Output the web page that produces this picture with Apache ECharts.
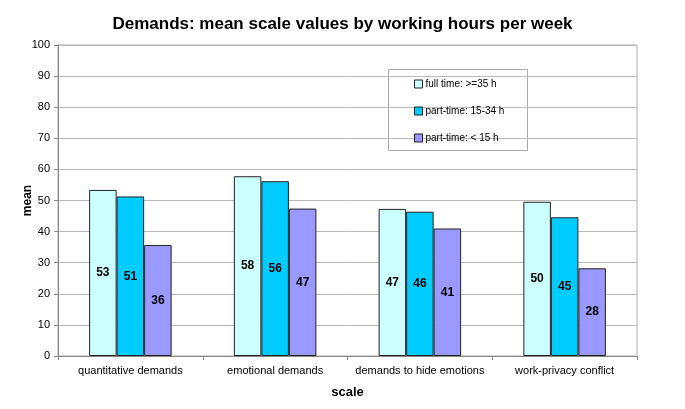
<!DOCTYPE html>
<html><head><meta charset="utf-8">
<script src="https://cdn.jsdelivr.net/npm/echarts@6/dist/echarts.min.js"></script>
<style>html,body{margin:0;padding:0;background:#fff}#c{width:685px;height:409px}</style>
</head><body><div id="c"></div>
<script>
const categories = ['quantitative demands', 'emotional demands', 'demands to hide emotions', 'work-privacy conflict'];
const seriesNames = ['full time: >=35 h', 'part-time: 15-34 h', 'part-time: < 15 h'];
const fullTime = [53.4, 57.8, 47.3, 49.6];
const partTime1534 = [51.3, 56.2, 46.4, 44.6];
const partTimeLt15 = [35.7, 47.4, 41.0, 28.2];
const yTicks = [0, 10, 20, 30, 40, 50, 60, 70, 80, 90, 100];

const colors = ['#CCFFFF', '#00CCFF', '#9999FF'];
const font = 'Liberation Sans, Arial, Helvetica, sans-serif';
const chart = echarts.init(document.getElementById('c'));
const mk = (name, data, i) => ({
  name, type: 'bar', data, barGap: '0%', barCategoryGap: '43%',
  itemStyle: { color: colors[i], borderColor: '#222', borderWidth: 1 },
  label: { show: true, position: 'inside', formatter: p => Math.round(p.value), color: '#000', fontWeight: 'bold', fontSize: 12, fontFamily: font }
});
chart.setOption({
  animation: false,
  title: { text: 'Demands: mean scale values by working hours per week', left: 'center', top: 11,
    textStyle: { fontSize: 17, fontWeight: 'bold', color: '#000', fontFamily: font } },
  grid: { left: 58, right: 48, top: 45, bottom: 53, show: true, borderColor: '#aaa', borderWidth: 1, backgroundColor: 'transparent' },
  legend: { orient: 'vertical', left: 411, top: 77, icon: 'rect', itemWidth: 8, itemHeight: 8, itemGap: 17,
    padding: [2, 10, 10, 3],
    data: seriesNames.map(n => ({ name: n, itemStyle: { borderColor: '#222', borderWidth: 1 } })),
    textStyle: { fontSize: 10, color: '#000', fontFamily: font, padding: [0, 0, 0, -2] } },
  graphic: [{ type: 'rect', left: 388, top: 69, shape: { width: 139, height: 81 }, style: { fill: '#fff', stroke: '#aaa', lineWidth: 1 }, z: 0 }],
  xAxis: { type: 'category', data: categories, name: 'scale', nameLocation: 'middle', nameGap: 30,
    nameTextStyle: { fontSize: 13, fontWeight: 'bold', color: '#000', fontFamily: font },
    axisLine: { lineStyle: { color: '#888' } },
    axisTick: { show: true, length: 4, lineStyle: { color: '#888' } },
    axisLabel: { interval: 0, fontSize: 11, color: '#000', fontFamily: font, margin: 9 } },
  yAxis: { type: 'value', min: yTicks[0], max: yTicks[yTicks.length - 1], interval: 10, name: 'mean', nameLocation: 'middle', nameGap: 24, nameMoveOverlap: false,
    nameTextStyle: { fontSize: 12, fontWeight: 'bold', color: '#000', fontFamily: font },
    axisLine: { show: true, lineStyle: { color: '#888' } },
    axisTick: { show: true, length: 4, lineStyle: { color: '#888' } },
    splitLine: { lineStyle: { color: '#bbb' } },
    axisLabel: { fontSize: 11, color: '#000', fontFamily: font, margin: 8 } },
  series: [mk(seriesNames[0], fullTime, 0), mk(seriesNames[1], partTime1534, 1), mk(seriesNames[2], partTimeLt15, 2)]
});
</script></body></html>
